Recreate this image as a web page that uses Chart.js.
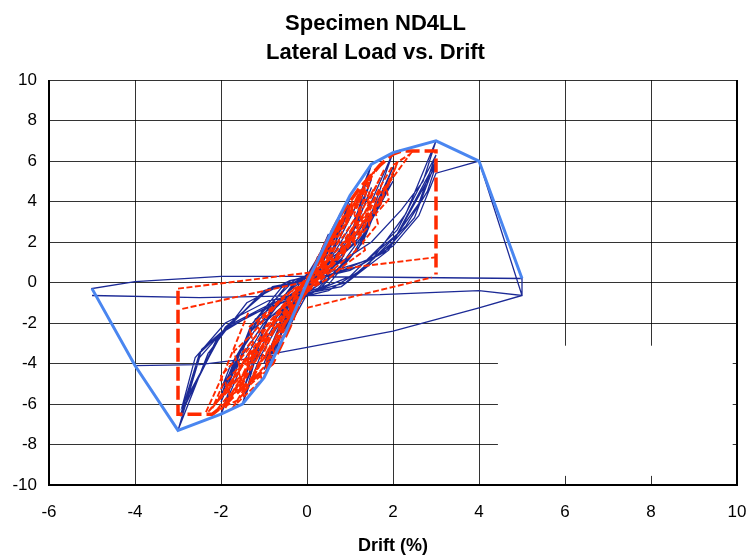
<!DOCTYPE html>
<html>
<head>
<meta charset="utf-8">
<script src="https://cdn.jsdelivr.net/npm/chart.js@4.4.1/dist/chart.umd.min.js"></script>
<style>
  html, body { margin: 0; padding: 0; background: #fff; }
  #wrap { width: 751px; height: 557px; }
</style>
</head>
<body>
<div id="wrap"><canvas id="chart" width="751" height="557"></canvas></div>
<script>
const xTicks = [-6, -4, -2, 0, 2, 4, 6, 8, 10];
const yTicks = [-10, -8, -6, -4, -2, 0, 2, 4, 6, 8, 10];

// test envelope (peak points), [drift %, load]
const testEnvelope = [[-5, -0.3], [-4, -4.1], [-3, -7.3], [-2, -6.5], [-1.5, -6.0], [-1, -4.7], [-0.5, -2.5], [0, 0],
  [0.5, 2.2], [1, 4.3], [1.5, 5.85], [2, 6.42], [3, 7.0], [4, 6.0], [5, 0.2]];

// measured hysteresis, one array per drift level
const testSmall = [[0, 0], [0.25, 1.3], [0.05, 0.2], [-0.25, -1.3], [-0.05, -0.2], [0.25, 1.2], [-0.25, -1.2],
  [0.5, 2.4], [0.15, 0.4], [-0.5, -2.5], [-0.15, -0.4], [0.5, 2.2], [-0.5, -2.3], [0.75, 3.3], [0.3, 0.6],
  [-0.75, -3.5], [-0.3, -0.7], [0.75, 3.0], [-0.75, -3.2], [0, 0]];
const test1 = [[1.0, 4.2], [0.55, 1.3], [0.1, -0.2], [-0.4, -1.3], [-1.0, -4.7], [-0.55, -1.4], [-0.1, 0.2],
  [0.45, 1.4], [1.0, 3.9], [0.5, 1.0], [-0.2, -0.7], [-1.0, -4.3], [-0.45, -1.0], [0.3, 0.7], [1.0, 3.7],
  [0.4, 0.7], [-0.3, -0.8], [-1.0, -4.0], [-0.35, -0.6]];
const test15 = [[0.5, 1.1], [1.1, 3.6], [1.5, 5.85], [0.95, 1.8], [0.35, 0], [-0.4, -1.1], [-1.1, -3.7], [-1.5, -6.0],
  [-0.95, -1.9], [-0.3, 0], [0.5, 1.0], [1.1, 3.1], [1.5, 5.1], [0.85, 1.3], [0.2, -0.2], [-0.5, -1.2], [-1.1, -3.3],
  [-1.5, -5.4], [-0.85, -1.4], [-0.2, 0.1], [0.6, 1.1], [1.2, 3.1], [1.5, 4.7], [0.8, 1.1], [-0.5, -1.1],
  [-1.2, -3.2], [-1.5, -5.0], [-0.8, -1.1]];
const test2 = [[0, 0.3], [0.8, 1.6], [1.5, 4.0], [2.0, 6.42], [1.35, 2.5], [0.6, 0.3], [-0.2, -0.5], [-0.9, -1.8],
  [-1.5, -4.0], [-2.0, -6.5], [-1.35, -2.5], [-0.5, -0.2], [0.3, 0.5], [1.0, 1.9], [1.6, 3.8], [2.0, 5.7], [1.3, 2.0],
  [0.5, -0.1], [-0.3, -0.7], [-1.0, -2.0], [-1.6, -3.9], [-2.0, -5.9], [-1.3, -2.1], [-0.5, 0], [0.4, 0.6], [1.1, 1.9],
  [1.7, 3.8], [2.0, 5.3], [1.2, 1.7], [0.3, -0.3], [-1.1, -2.0], [-1.7, -3.9], [-2.0, -5.6], [-1.2, -1.8],
  [0.5, 0.7], [1.2, 2.2], [1.7, 4.0], [2.0, 5.0], [1.1, 1.5], [0.2, -0.4], [-0.6, -1.0], [-1.3, -2.4], [-1.8, -4.2],
  [-2.0, -5.3], [-1.1, -1.6], [-0.3, 0.1]];
const test3 = [[0.7, 0.9], [1.5, 2.0], [2.2, 3.6], [2.7, 5.0], [3.0, 7.0], [2.3, 3.4], [1.4, 0.8], [0.5, -0.4],
  [-0.5, -0.9], [-1.3, -1.6], [-2.0, -2.5], [-2.5, -3.7], [-3.0, -7.3], [-2.3, -3.5], [-1.4, -1.0], [-0.4, 0.1],
  [0.5, 0.5], [1.4, 1.1], [2.1, 2.4], [2.6, 3.9], [3.0, 6.3], [2.1, 2.6], [1.0, 0.3], [0, -0.6], [-1.0, -1.3],
  [-1.9, -2.3], [-2.5, -3.5], [-2.95, -6.6], [-2.1, -2.8], [-1.0, -0.4], [0, 0.1], [1.0, 0.6], [1.8, 1.5],
  [2.5, 3.2], [3.0, 6.0], [2.0, 2.0], [0.9, 0], [-0.8, -1.0], [-1.8, -2.1], [-2.45, -3.3], [-2.9, -6.3],
  [-2.0, -2.5], [-0.9, -0.3], [0.6, 0.4], [1.6, 1.3], [2.3, 2.8], [2.8, 4.5], [3.0, 5.8], [1.9, 1.6], [0.8, -0.2],
  [-0.9, -0.9], [-1.9, -2.0], [-2.6, -3.7], [-2.9, -6.1], [-1.9, -2.2], [-0.8, -0.2]];
const test45 = [[0.2, 0.2], [1.2, 0.8], [2.0, 1.8], [2.6, 3.3], [3.0, 5.4], [4.0, 6.0], [5.0, -0.64], [4.0, -1.25],
  [2.0, -2.4], [0, -3.2], [-1.5, -3.8], [-2.5, -4.05], [-4.0, -4.1], [-5.0, -0.3], [-4.0, 0.05], [-2.0, 0.3],
  [0, 0.3], [2.5, 0.25], [5.0, 0.2], [5.0, -0.64], [4.0, -0.4], [1.7, -0.6], [0, -0.65], [-2.5, -0.75], [-5.0, -0.64]];

// analytical model hysteresis
const modelCycles = [[0, 0], [0.15, 0.7], [0.08, 0.3], [-0.15, -0.8], [-0.06, -0.3], [0.25, 1.1], [0.18, 0.6], [0.3, 1.3],
  [0.12, 0.3], [-0.25, -1.2], [-0.18, -0.7], [-0.35, -1.5], [-0.1, -0.3], [0.35, 1.6], [0.28, 1.1], [0.5, 2.2],
  [0.42, 1.6], [0.35, 0.9], [0.15, 0.2], [-0.4, -1.7], [-0.3, -1.1], [-0.6, -2.5], [-0.45, -1.8], [-0.35, -1.0],
  [-0.1, -0.2], [0.45, 1.9], [0.38, 1.4], [0.65, 2.8], [0.55, 2.1], [0.75, 3.1], [0.6, 2.0], [0.45, 1.0], [0.2, 0.2],
  [-0.55, -2.2], [-0.45, -1.6], [-0.8, -3.3], [-0.65, -2.6], [-0.95, -3.9], [-0.75, -2.8], [-0.5, -1.5], [-0.2, -0.4],
  [0.5, 1.8], [0.85, 3.3], [0.75, 2.6], [1.05, 4.0], [0.9, 3.0], [1.2, 4.4], [0.95, 3.2], [0.7, 1.9], [0.3, 0.4],
  [-0.65, -2.4], [-1.0, -3.8], [-0.85, -3.1], [-1.3, -4.9], [-1.05, -3.8], [-1.5, -5.6], [-1.1, -3.9], [-0.75, -2.3],
  [-0.3, -0.5], [0.6, 1.8], [1.0, 3.4], [0.9, 2.8], [1.3, 4.5], [1.15, 3.7], [1.5, 5.2], [1.3, 4.0], [1.1, 2.8],
  [0.7, 1.3], [0.2, 0.1], [-0.8, -2.4], [-1.2, -3.9], [-1.05, -3.3], [-1.6, -5.4], [-1.4, -4.5], [-1.9, -6.2],
  [-1.5, -4.7], [-1.1, -3.0], [-0.6, -1.3], [0.1, 0.3], [0.85, 2.3], [1.25, 3.6], [1.1, 2.9], [1.55, 4.6], [1.4, 3.9],
  [1.8, 5.6], [1.55, 4.5], [1.3, 3.2], [0.9, 1.8], [0.4, 0.5], [-0.6, -1.9], [-1.1, -3.3], [-0.95, -2.8], [-1.5, -4.6],
  [-1.35, -4.1], [-2.0, -6.3], [-1.6, -5.0], [-1.3, -3.7], [-0.8, -2.0], [-0.2, -0.3], [0.7, 1.6], [1.2, 3.0],
  [1.5, 4.0], [1.4, 3.5], [1.75, 4.9], [2.0, 5.8], [2.4, 6.35], [1.9, 4.9], [1.6, 4.3], [1.3, 3.0], [0.9, 1.6],
  [0.3, 0.1], [-0.9, -2.3], [-1.4, -3.8], [-1.3, -3.3], [-1.8, -5.0], [-2.3, -6.4], [-1.8, -5.2], [-1.5, -4.1],
  [-1.0, -2.4], [-0.5, -1.0], [0, 0],
  [0.3, 1.2], [0.25, 0.8], [0.55, 2.3], [0.5, 1.9], [0.8, 3.1], [0.72, 2.6], [1.0, 3.8], [0.95, 3.3], [1.25, 4.6],
  [1.15, 4.0], [1.45, 5.3], [1.3, 4.4], [1.1, 3.4], [1.15, 3.0], [0.9, 2.2], [0.95, 1.9], [0.6, 1.0], [0.3, 0.3],
  [-0.2, -0.8], [-0.15, -1.1], [-0.5, -2.0], [-0.45, -2.4], [-0.8, -3.2], [-0.75, -3.6], [-1.1, -4.4], [-1.05, -4.8],
  [-1.45, -5.6], [-1.7, -6.1], [-1.45, -5.2], [-1.5, -4.8], [-1.25, -4.0], [-1.3, -3.6], [-1.0, -2.8], [-1.05, -2.4],
  [-0.7, -1.5], [-0.4, -0.7], [0, 0.1], [0.4, 1.5], [0.35, 1.1], [0.7, 2.6], [0.65, 2.2], [0.95, 3.5], [0.9, 3.0],
  [1.2, 4.1], [1.35, 4.9], [1.6, 5.6], [1.4, 4.8], [1.45, 4.4], [1.2, 3.6], [1.25, 3.2], [1.0, 2.5], [1.05, 2.1],
  [0.7, 1.2], [0.4, 0.4], [0, -0.3], [-0.35, -1.4], [-0.3, -1.8], [-0.65, -2.7], [-0.6, -3.1], [-0.95, -3.9],
  [-0.9, -4.3], [-1.3, -5.0], [-1.6, -5.8], [-2.1, -6.3], [-1.8, -5.5], [-1.85, -5.1], [-1.55, -4.3], [-1.6, -3.9],
  [-1.25, -3.0], [-1.3, -2.6], [-0.9, -1.6], [-0.5, -0.6], [0, 0],
  [0.5, 0.9], [0.45, 0.6], [0.9, 1.8], [0.85, 1.4], [1.25, 2.6], [1.2, 2.2], [1.5, 3.4], [1.45, 3.0], [1.75, 4.2],
  [1.7, 3.8], [1.9, 5.0], [2.1, 5.9], [1.85, 4.6], [1.9, 4.1], [1.6, 3.4], [1.65, 2.9], [1.3, 2.0], [1.35, 1.6],
  [0.9, 0.9], [0.5, 0.2], [0, -0.4], [-0.4, -1.0], [-0.35, -1.4], [-0.8, -2.0], [-0.75, -2.4], [-1.2, -3.2],
  [-1.15, -3.6], [-1.6, -4.3], [-1.55, -4.7], [-2.0, -5.6], [-2.2, -6.2], [-1.95, -5.0], [-2.0, -4.6], [-1.65, -3.8],
  [-1.7, -3.4], [-1.3, -2.6], [-1.35, -2.2], [-0.9, -1.4], [-0.5, -0.6], [0, 0],
  [0.6, 1.3], [0.55, 0.9], [1.0, 2.3], [0.95, 1.9], [1.35, 3.1], [1.3, 2.7], [1.6, 3.9], [1.55, 3.5], [1.85, 4.8],
  [1.6, 4.2], [1.4, 3.3], [1.45, 2.8], [1.1, 2.0], [1.15, 1.6], [0.7, 0.8], [0.3, 0.1], [-0.3, -1.0], [-0.6, -1.6],
  [-0.55, -2.0], [-1.0, -2.7], [-0.95, -3.1], [-1.4, -3.9], [-1.35, -4.3], [-1.8, -5.1], [-2.15, -6.0], [-1.85, -5.4],
  [-1.9, -4.9], [-1.5, -4.0], [-1.55, -3.6], [-1.1, -2.4], [-1.15, -2.0], [-0.7, -1.1], [-0.3, -0.3], [0, 0]];

// model unloading branches after the strength drop
const modelBranchA = [[-3, -0.3], [3, 1.25]];
const modelBranchB = [[-2.9, -1.3], [0, 0.05]];
const modelBranchC = [[0, -1.25], [2.9, 0.25]];
const modelBranchD = [[-2.35, -6.4], [-1.9, -4.3], [-1.35, -1.4]];

// model envelope
const modelEnvelope = [[-3, -0.4], [-3, -6.5], [-2.2, -6.5], [-1.9, -6.0], [-1.5, -5.2], [-1.1, -4.5], [-0.8, -4.0],
  [-0.4, -2.2], [0, 0], [0.4, 1.8], [0.8, 3.4], [1.2, 4.6], [1.7, 5.8], [2.0, 6.35], [2.2, 6.5], [3, 6.5], [3, 0.4]];

function pts(arr) {
    return arr.map(p => ({ x: p[0], y: p[1] }));
}

const fontFamily = "'Liberation Sans', Arial, Helvetica, sans-serif";
const NAVY = '#1c2a96';
const RED = '#ff2a00';
const LIGHT = '#4a86f0';

function redThin(arr) {
    return {
        data: pts(arr), showLine: true, pointRadius: 0, borderColor: RED,
        borderWidth: 1.9, borderDash: [6, 2.5], tension: 0, order: 2
    };
}

// white (empty legend) box and the frame
const frame = {
    id: 'frame',
    beforeDatasetsDraw(chart) {
        const { ctx, scales } = chart;
        const x1 = scales.x.getPixelForValue(4.44), x2 = scales.x.getPixelForValue(9.9);
        const y1 = scales.y.getPixelForValue(-3.12), y2 = scales.y.getPixelForValue(-9.55);
        ctx.save();
        ctx.fillStyle = '#fff';
        ctx.fillRect(x1, y1, x2 - x1, y2 - y1);
        ctx.restore();
    },
    afterDraw(chart) {
        const { ctx, chartArea: a } = chart;
        ctx.save();
        ctx.strokeStyle = '#000';
        ctx.lineWidth = 2;
        ctx.beginPath();
        ctx.moveTo(a.left, a.top);
        ctx.lineTo(a.left, a.bottom);
        ctx.lineTo(a.right, a.bottom);
        ctx.lineTo(a.right, a.top);
        ctx.stroke();
        ctx.restore();
    }
};

const testPath = [].concat(testSmall, test1, test15, test2, test3, test45);

new Chart(document.getElementById('chart'), {
    type: 'scatter',
    data: {
        datasets: [
            {
                data: pts(testEnvelope), showLine: true, pointRadius: 0,
                borderColor: LIGHT, borderWidth: 3, tension: 0, order: 0
            },
            {
                data: pts(modelEnvelope), showLine: true, pointRadius: 0,
                borderColor: RED, borderWidth: 3.5, borderDash: [14, 5], tension: 0, order: 1
            },
            redThin(modelCycles),
            redThin(modelBranchA),
            redThin(modelBranchB),
            redThin(modelBranchC),
            redThin(modelBranchD),
            {
                data: pts(testPath), showLine: true, pointRadius: 0,
                borderColor: NAVY, borderWidth: 1.3, tension: 0, order: 3
            }
        ]
    },
    options: {
        responsive: false,
        animation: false,
        layout: { padding: { left: 0, right: 0, top: 0, bottom: 0 } },
        plugins: {
            legend: { display: false },
            tooltip: { enabled: false },
            title: {
                display: true,
                text: ['Specimen ND4LL', 'Lateral Load vs. Drift'],
                color: '#000',
                font: { family: fontFamily, size: 22, weight: 'bold', lineHeight: 1.32 },
                padding: { top: 9, bottom: 13 }
            }
        },
        scales: {
            x: {
                type: 'linear', min: -6, max: 10,
                afterBuildTicks: s => { s.ticks = xTicks.map(v => ({ value: v })); },
                afterFit: s => { s.height = 72; s.paddingLeft = 0; s.paddingRight = 14; },
                grid: { color: 'rgba(0,0,0,0.8)', lineWidth: 1, drawTicks: false },
                border: { display: false },
                ticks: { color: '#000', padding: 17, font: { family: fontFamily, size: 17 } },
                title: {
                    display: true, text: 'Drift (%)', color: '#000',
                    font: { family: fontFamily, size: 18, weight: 'bold' },
                    padding: { top: 6, bottom: 0 }
                }
            },
            y: {
                type: 'linear', min: -10, max: 10,
                afterBuildTicks: s => { s.ticks = yTicks.map(v => ({ value: v })); },
                afterFit: s => { s.width = 49; },
                grid: { color: 'rgba(0,0,0,0.8)', lineWidth: 1, drawTicks: false },
                border: { display: false },
                ticks: { color: '#000', padding: 12, font: { family: fontFamily, size: 17 } }
            }
        }
    },
    plugins: [frame]
});
</script>
</body>
</html>
